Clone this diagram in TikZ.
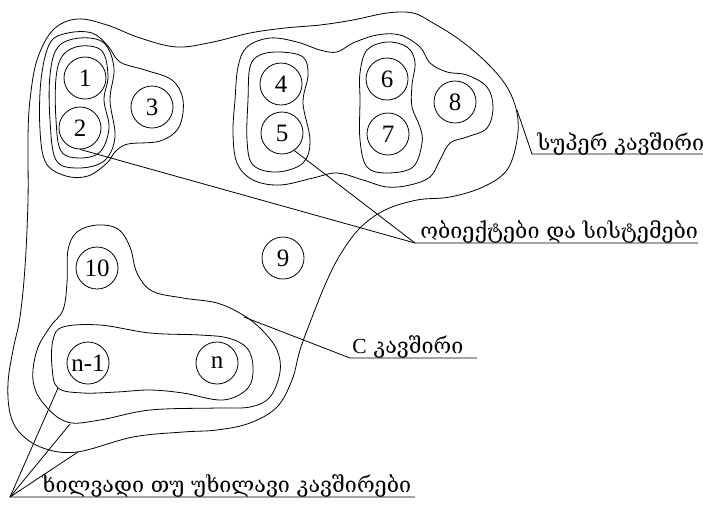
\documentclass[tikz,border=0pt]{standalone}
\usepackage{fontspec}
\setmainfont{Liberation Serif}
\newfontfamily\geo{DejaVu Serif}
\begin{document}
\begin{tikzpicture}[x=1pt,y=-1pt,line width=0.8pt,
  obj/.style={circle,draw,minimum size=42pt,inner sep=0pt,font=\fontsize{25}{25}\selectfont},
  group/.style={draw,smooth cycle,tension=0.6},
  lbl/.style={anchor=base west,inner sep=0pt,font=\geo\fontsize{21.5}{21.5}\selectfont}]
\useasboundingbox (0,0) rectangle (703,507);

% objects
\node[obj] (c1) at (85,78) {1};
\node[obj] (c2) at (80,128) {2};
\node[obj] (c3) at (152,107) {3};
\node[obj] (c4) at (281,84) {4};
\node[obj] (c5) at (282,133) {5};
\node[obj] (c6) at (387,79) {6};
\node[obj] (c7) at (388,134) {7};
\node[obj] (c8) at (455,102) {8};
\node[obj] (c9) at (283,258) {9};
\node[obj] (c10) at (97,268) {10};
\node[obj] (cn1) at (88,363) {n-1};
\node[obj] (cn) at (217,363) {n};

% super link boundary
\draw plot[group] coordinates {(37,60) (53,30) (77,19) (107,25) (140,38) (177,47) (213,42)
  (250,33) (285,28) (320,25) (353,20) (387,13) (413,13) (433,23) (460,40) (487,63) (507,87)
  (517,113) (517,140) (507,170) (483,187) (450,197) (417,200) (385,210) (360,228) (340,255)
  (325,285) (311,320) (300,350) (292,380) (277,407) (250,423) (217,430) (183,432) (133,437)
  (77,452) (43,448) (20,433) (10,413) (8,383) (13,350) (20,317) (25,267) (28,200) (28,137) (30,100)};

% group 1-2-3
\draw plot[group] coordinates {(120,62) (145,70) (172,80) (183,100) (179,127) (160,141)
  (128,144) (115,152) (107,163) (88,176) (66,176) (46,163) (40,130) (41,80) (50,43) (68,33) (92,33) (108,46)};
\draw plot[group] coordinates {(80,38) (104,43) (114,68) (110,100) (115,137) (104,161)
  (78,168) (56,160) (50,120) (50,75) (58,47)};
\draw plot[group] coordinates {(81,46) (102,51) (108,76) (104,100) (109,128) (100,152)
  (79,158) (61,151) (56,120) (56,78) (63,55)};

% group 4-8
\draw plot[group] coordinates {(247,47) (270,38) (297,42) (320,50) (337,52) (353,43) (377,35)
  (400,35) (420,47) (430,63) (447,72) (467,75) (487,87) (493,107) (487,128) (467,137) (450,143)
  (440,160) (430,177) (410,185) (387,187) (363,180) (337,173) (313,178) (280,185) (253,180)
  (237,163) (233,133) (235,100) (238,67)};
\draw plot[group] coordinates {(280,52) (303,57) (308,75) (303,103) (310,140) (303,163)
  (277,172) (253,165) (247,140) (248,100) (250,67) (260,55)};
\draw plot[group] coordinates {(387,42) (407,47) (415,62) (412,85) (412,107) (420,127)
  (422,143) (413,167) (387,173) (367,167) (360,140) (360,100) (360,73) (367,50)};

% group 10 .. n
\draw plot[group] coordinates {(97,225) (118,229) (130,247) (137,273) (152,291) (183,298)
  (217,303) (243,315) (262,330) (277,350) (280,372) (270,397) (250,407) (217,408) (150,410)
  (100,420) (67,422) (43,403) (33,380) (37,350) (50,327) (63,310) (67,283) (68,250) (77,232)};
\draw plot[group] coordinates {(63,327) (100,325) (150,333) (200,335) (228,338) (247,348)
  (253,367) (248,388) (223,400) (183,393) (150,390) (117,392) (83,393) (58,388) (52,367) (53,340)};

% leader anchors
\coordinate (supA) at (517,110);
\coordinate (supK) at (532,154);
\coordinate (supE) at (703,154);
\coordinate (objK) at (415,243);
\coordinate (objE) at (698,243);
\coordinate (cA) at (244,317);
\coordinate (cK) at (350,358);
\coordinate (cE) at (477,358);
\coordinate (visK) at (10,497);
\coordinate (visE) at (415,497);
\coordinate (visA) at (58,388);
\coordinate (visB) at (70,424);
\coordinate (visC) at (78,452);

% leaders
\draw (supA) -- (supK) -- (supE);
\draw (c2.south) -- (objK) -- (objE);
\draw (c5.-55) -- (objK);
\draw (cA) -- (cK) -- (cE);
\draw (visA) -- (visK) -- (visE);
\draw (visB) -- (visK);
\draw (visC) -- (visK);

% labels
\node[lbl] (tsup) at (537,150) {სუპერ კავშირი};
\node[lbl] (tobj) at (420,238) {ობიექტები და სისტემები};
\node[lbl] (tc) at (352,353) {{\rmfamily C} კავშირი};
\node[lbl] (tvis) at (42,492) {ხილვადი თუ უხილავი კავშირები};
\end{tikzpicture}
\end{document}
